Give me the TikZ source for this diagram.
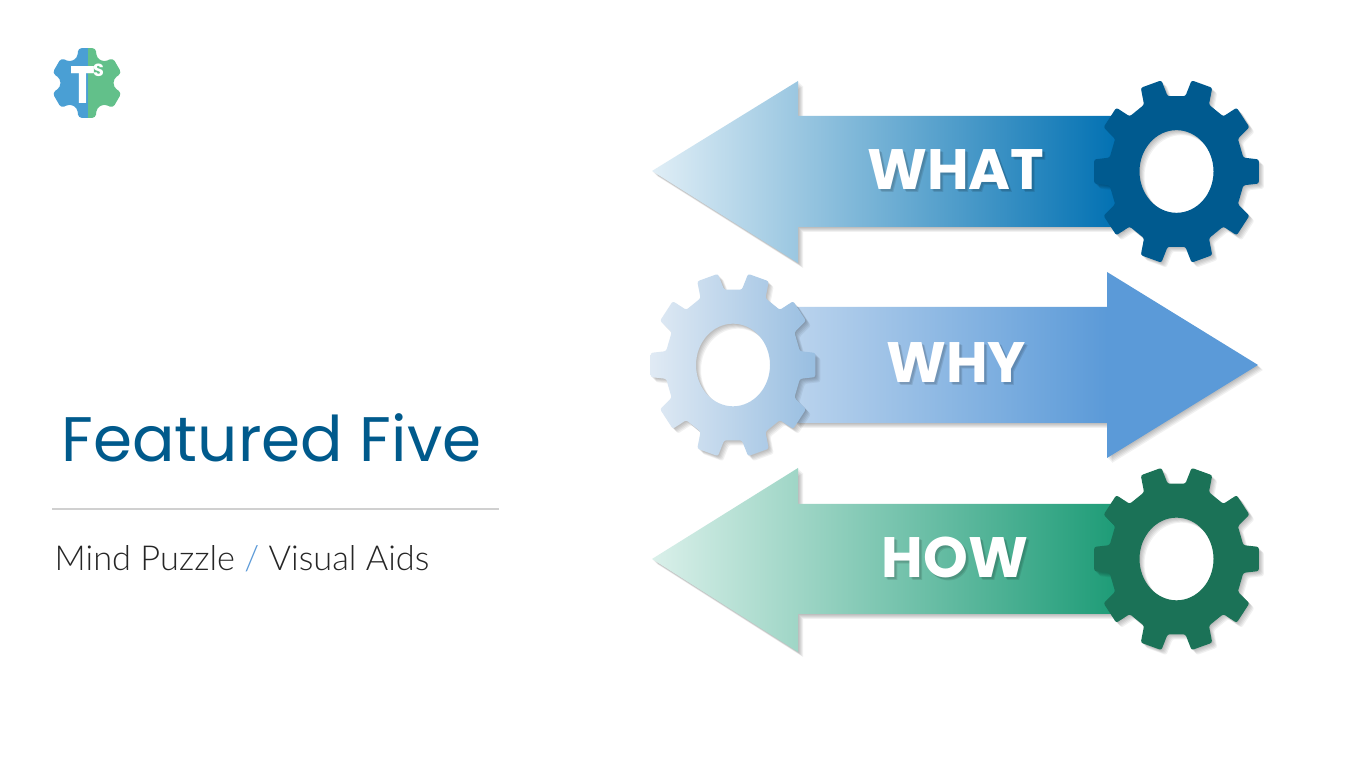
\documentclass[tikz,border=0pt]{standalone}
\usepackage{fontspec}
\setmainfont{Poppins}
\newfontfamily\lightfont{Lato Light}
\usetikzlibrary{positioning}
\definecolor{titleblue}{HTML}{005A8C}
\definecolor{slashblue}{HTML}{5B9AD8}
\definecolor{rulegray}{HTML}{D0D0D0}
\definecolor{logoblue}{HTML}{4A9FD4}
\definecolor{logogreen}{HTML}{62C08A}
\definecolor{whatlight}{RGB}{224,238,246}
\definecolor{whatdark}{RGB}{0,112,178}
\definecolor{whatgear}{RGB}{0,90,143}
\definecolor{whylight}{RGB}{186,211,237}
\definecolor{whydark}{RGB}{91,154,216}
\definecolor{whygearl}{RGB}{224,234,244}
\definecolor{whygeard}{RGB}{152,190,225}
\definecolor{howlight}{RGB}{218,240,234}
\definecolor{howdark}{RGB}{28,155,118}
\definecolor{howgear}{RGB}{27,114,87}
\pgfdeclarehorizontalshading{logosplit}{100bp}{color(0bp)=(logoblue); color(50bp)=(logoblue); color(50bp)=(logogreen); color(100bp)=(logogreen)}
\pgfdeclarehorizontalshading{whyfill}{100bp}{color(0bp)=(whylight); color(25bp)=(whylight); color(58.7bp)=(whydark); color(100bp)=(whydark)}
\tikzset{
  shadowcopy/.style={fill=black, draw=none, opacity=0.055, even odd rule},
  gearwheel/.style={draw=none, even odd rule},
  wordlabel/.style={text=white, font=\fontsize{16.2}{18}\selectfont\bfseries, inner sep=0pt},
  wordshadow/.style={text=black, opacity=0.1, font=\fontsize{16.2}{18}\selectfont\bfseries, inner sep=0pt}
}
% ten teeth round a hole, drawn at the origin of the current scope
\newcommand{\gearpath}{
  [yscale=1.117, rounded corners=0.6pt] (-10.5:0.68) -- (-7.5:0.83) -- (7.5:0.83) -- (10.5:0.68)
  \foreach \a in {36,72,...,324}{
    -- (\a-10.5:0.68) -- (\a-7.5:0.83) -- (\a+7.5:0.83) -- (\a+10.5:0.68)
  } -- cycle
  [sharp corners] (0,0) circle (0.37)
}
% stack of faint copies, moved down and to the right
\newcommand{\softshadow}[1]{
  \foreach \d in {0.01,0.02,0.03,0.04,0.05}{
    \path[shadowcopy, xshift=\d cm, yshift=-\d cm] #1;
  }
}
\newcommand{\whatpath}{(6.52,5.95) -- (7.98,6.85) -- (7.98,6.50) -- (11.20,6.50) -- (11.20,5.39) -- (7.98,5.39) -- (7.98,5.03) -- cycle}
\newcommand{\whypath}{(12.58,4.01) -- (11.07,4.94) -- (11.07,4.59) -- (7.95,4.59) -- (7.95,3.43) -- (11.07,3.43) -- (11.07,3.08) -- cycle}
\newcommand{\howpath}{(6.52,2.07) -- (7.98,2.98) -- (7.98,2.62) -- (11.20,2.62) -- (11.20,1.52) -- (7.98,1.52) -- (7.98,1.14) -- cycle}
\begin{document}
\begin{tikzpicture}
  \useasboundingbox[fill=white] (0,0) rectangle (13.66,7.66);

  % logo
  \shade[shading=logosplit, draw=none, rounded corners=1pt, shift={(0.87,6.83)}]
    (9:0.27) -- (16:0.36) -- (44:0.36) -- (51:0.27)
    \foreach \a in {90,150,...,330}{
      -- (\a-21:0.27) -- (\a-14:0.36) -- (\a+14:0.36) -- (\a+21:0.27)
    } -- cycle;
  \node[text=white, font=\fontsize{15}{15}\selectfont\bfseries, inner sep=0pt, xscale=0.8] (logot) at (0.83,6.81) {T};
  \node[text=white, font=\fontsize{5}{5}\selectfont\bfseries, inner sep=0pt] (logos) at (0.985,6.96) {S};

  % title block
  \node[text=titleblue, font=\fontsize{17.9}{20}\selectfont, anchor=west, inner sep=0pt] (title) at (0.61,3.285) {Featured Five};
  \coordinate (ruleleft) at (0.52,2.57);
  \coordinate (ruleright) at (4.99,2.57);
  \draw[rulegray, line width=0.35pt] (ruleleft) -- (ruleright);
  \node[text=black!85, font=\fontsize{9.78}{12}\lightfont, anchor=west, inner sep=0pt] (subtitle) at (0.54,2.07)
    {Mind Puzzle {\color{slashblue}/} Visual Aids};

  % what
  \softshadow{\whatpath}
  \shade[left color=whatlight, right color=whatdark] \whatpath;
  \begin{scope}[shift={(11.765,5.945)}]
    \softshadow{\gearpath}
    \fill[gearwheel, fill=whatgear] \gearpath;
  \end{scope}
  \node[wordshadow] (whatshadow) at (9.59,5.93) {WHAT};
  \node[wordshadow] (whatshadowb) at (9.58,5.94) {WHAT};
  \node[wordlabel] (what) at (9.56,5.96) {WHAT};

  % why
  \softshadow{\whypath}
  \shade[shading=whyfill] \whypath;
  \begin{scope}[shift={(7.33,4.01)}]
    \softshadow{\gearpath}
    \shade[gearwheel, left color=whygearl, right color=whygeard] \gearpath;
  \end{scope}
  \node[wordshadow] (whyshadow) at (9.59,4.00) {WHY};
  \node[wordshadow] (whyshadowb) at (9.58,4.01) {WHY};
  \node[wordlabel] (why) at (9.56,4.03) {WHY};

  % how
  \softshadow{\howpath}
  \shade[left color=howlight, right color=howdark] \howpath;
  \begin{scope}[shift={(11.765,2.07)}]
    \softshadow{\gearpath}
    \fill[gearwheel, fill=howgear] \gearpath;
  \end{scope}
  \node[wordshadow] (howshadow) at (9.58,2.06) {HOW};
  \node[wordshadow] (howshadowb) at (9.57,2.07) {HOW};
  \node[wordlabel] (how) at (9.55,2.09) {HOW};
\end{tikzpicture}
\end{document}
